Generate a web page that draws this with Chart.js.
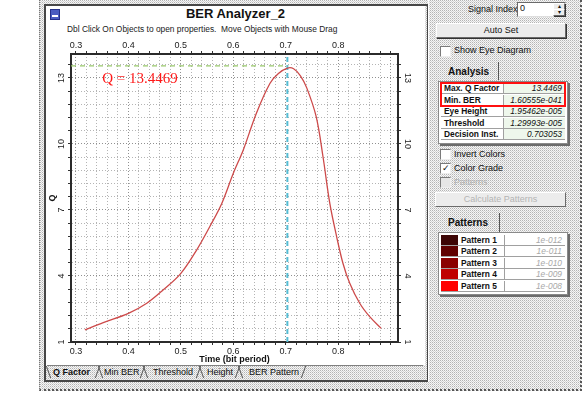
<!DOCTYPE html>
<html>
<head>
<meta charset="utf-8">
<title>BER Analyzer_2</title>
<script src="https://cdn.jsdelivr.net/npm/chart.js@4.4.0/dist/chart.umd.min.js"></script>
<style>
  html, body { margin:0; padding:0; background:#fff; width:582px; height:404px; overflow:hidden;
    font-family:"Liberation Sans", Arial, sans-serif; color:#111; }
  .a { position:absolute; }
  .dots { background-color:#f6f6f6;
    background-image:url("data:image/svg+xml,%3Csvg xmlns='http://www.w3.org/2000/svg' width='2' height='2'%3E%3Crect width='1' height='1' fill='%23b4b4b4'/%3E%3Crect x='1' y='1' width='1' height='1' fill='%23d4d4d4'/%3E%3C/svg%3E");
    background-size:2px 2px; }
  #frame { left:39px; top:0; width:540px; height:389px; border-left:1px dotted #777; border-right:2px dotted #555; border-bottom:2px dotted #555; }
  #win { left:44px; top:4px; width:381px; height:374px; border:2px solid #474747; }
  #plotBox { left:46px; top:6px; width:379px; height:359px; background:#fff; }
  #title { left:46px; top:6px; width:379px; text-align:center; font-weight:bold; font-size:13px; }
  #subtitle { left:67px; top:24px; font-size:8.4px; white-space:nowrap; color:#222; }
  #icon { left:50px; top:9px; width:8px; height:9px; background:#4a5cc0; border:1px solid #24308a; }
  #icon:after { content:""; position:absolute; left:1px; top:5px; width:6px; height:2px; background:#fff; }
  canvas { position:absolute; left:46px; top:6px; }
  .tab { font-size:9px; top:367px; white-space:nowrap; }
  .sep { width:1px; height:12px; top:366px; background:#555; }
  .txt { font-size:9px; white-space:nowrap; }
  .cb { width:9px; height:9px; background:#fff; border:1px solid; border-color:#7a7a7a #eee #eee #7a7a7a; }
  .btn { background:#ececec; border:1px solid; border-color:#fff #6a6a6a #6a6a6a #fff; box-shadow:1px 1px 0 #333;
    font-size:9px; text-align:center; line-height:13px; }
  .cell { font-size:8.4px; line-height:11px; height:11px; white-space:nowrap; box-sizing:border-box; border-bottom:1px solid #a0a0a0; }
  .name { font-weight:bold; padding-left:3px; border-right:1px solid #a0a0a0; }
  .val { font-style:italic; text-align:right; padding-right:3px; }
</style>
</head>
<body>
<div id="frame" class="a dots"></div>
<div id="win" class="a dots"></div>
<div id="plotBox" class="a"></div>
<div id="title" class="a">BER Analyzer_2</div>
<div id="subtitle" class="a">Dbl Click On Objects to open properties.&nbsp; Move Objects with Mouse Drag</div>
<div id="icon" class="a"></div>
<canvas id="qChart" width="379" height="359"></canvas>
<div id="panel"></div>

<script>
// values
const timeVals = [0.317, 0.352, 0.40, 0.435, 0.466, 0.50, 0.53, 0.555, 0.578, 0.60, 0.619, 0.644, 0.67, 0.686,
                  0.703, 0.715, 0.728, 0.74, 0.758, 0.771, 0.784, 0.797, 0.809, 0.822, 0.841, 0.86, 0.882]
const qVals = [1.55, 1.88, 2.30, 2.76, 3.36, 4.12, 5.18, 6.24, 7.3, 8.67, 9.73, 11.4, 12.76, 13.2,
               13.4469, 13.42, 13.1, 12.55, 11.24, 9.42, 7.3, 5.79, 4.58, 3.67, 2.76, 2.15, 1.62]
const xTickLabels = ['0.3', '0.4', '0.5', '0.6', '0.7', '0.8']
const yTickLabels = ['1', '4', '7', '10', '13']
const xRange = [0.2905, 0.914]
const yRange = [1, 14.09]
const maxQ = 13.4469
const maxQLine = 13.55
const decisionInst = 0.703053

const analysisNames = ['Max. Q Factor', 'Min. BER', 'Eye Height', 'Threshold', 'Decision Inst.']
const analysisValues = ['13.4469', '1.60555e-041', '1.95462e-005', '1.29993e-005', '0.703053']
const patternNames = ['Pattern 1', 'Pattern 2', 'Pattern 3', 'Pattern 4', 'Pattern 5']
const patternValues = ['1e-012', '1e-011', '1e-010', '1e-009', '1e-008']
const patternColors = ['#3d0505', '#600000', '#8a0000', '#c00000', '#ff0000']

// grid steps: 0.02 on time axis, 0.6 on Q axis
const xGrid = []
for (let i = 0; i <= 30; i++) xGrid.push(+(0.30 + i * 0.02).toFixed(2))
const yGrid = []
for (let i = 0; i <= 21; i++) yGrid.push(+(1 + i * 0.6).toFixed(1))

const isMajorX = v => v !== undefined && Math.abs(v * 10 - Math.round(v * 10)) < 1e-6
const isMajorY = v => v !== undefined && yTickLabels.includes(String(v))
const xLabel = v => {
    const s = Number(v).toFixed(1)
    return isMajorX(v) && xTickLabels.includes(s) ? s : ''
}

const tickFont = { family: '"Liberation Sans", Arial', size: 9 }

const sideLabels = {
    id: 'sideLabels',
    afterDraw(chart) {
        const { ctx, chartArea, scales } = chart
        const y = scales.y
        ctx.save()
        ctx.font = '9px "Liberation Sans", Arial'
        ctx.fillStyle = '#222'
        ctx.textAlign = 'center'
        ctx.textBaseline = 'middle'
        yTickLabels.forEach(lbl => {
            const py = y.getPixelForValue(Number(lbl))
            ctx.save(); ctx.translate(chartArea.left - 9, py); ctx.rotate(-Math.PI / 2); ctx.fillText(lbl, 0, 0); ctx.restore()
            ctx.save(); ctx.translate(chartArea.right + 9, py); ctx.rotate(Math.PI / 2); ctx.fillText(lbl, 0, 0); ctx.restore()
        })
        ctx.font = '15px "Liberation Serif", "Times New Roman", serif'
        ctx.fillStyle = '#ff1a1a'
        ctx.textAlign = 'left'
        ctx.fillText('Q = ' + maxQ, scales.x.getPixelForValue(0.35), y.getPixelForValue(13) + 1)
        ctx.restore()
    }
}

const gridX = {
    color: c => isMajorX(c.tick && c.tick.value) ? '#909090' : '#b4b4b4',
    tickColor: '#333', tickLength: 3, tickWidth: 1
}
const gridY = {
    color: c => isMajorY(c.tick && c.tick.value) ? '#909090' : '#b4b4b4',
    tickColor: '#333', tickLength: 3, tickWidth: 1
}
const border = { color: '#2b2b2b', width: 2, dash: [1, 2] }

new Chart(document.getElementById('qChart').getContext('2d'), {
    type: 'line',
    data: {
        datasets: [
            {
                label: 'Q Factor',
                data: timeVals.map((t, i) => ({ x: t, y: qVals[i] })),
                borderColor: '#cd4a4a',
                borderWidth: 1.3,
                pointRadius: 0,
                tension: 0.35
            },
            {
                label: 'Max Q',
                data: [{ x: xRange[0], y: maxQLine }, { x: decisionInst, y: maxQLine }],
                borderColor: '#98c76a',
                borderWidth: 1.2,
                borderDash: [5, 4],
                pointRadius: 0
            },
            {
                label: 'Decision instant',
                data: [{ x: decisionInst, y: yRange[0] }, { x: decisionInst, y: yRange[1] }],
                borderColor: '#55bcd4',
                borderWidth: 2,
                borderDash: [5, 3],
                pointRadius: 0
            }
        ]
    },
    options: {
        responsive: false,
        animation: false,
        layout: { padding: { top: 34, left: 0, right: 0, bottom: 0 } },
        plugins: { legend: { display: false }, tooltip: { enabled: false } },
        scales: {
            x: {
                type: 'linear', position: 'bottom', min: xRange[0], max: xRange[1],
                afterBuildTicks: s => { s.ticks = xGrid.map(v => ({ value: v })) },
                afterFit: s => { s.height = 23 },
                ticks: { callback: xLabel, autoSkip: false, maxRotation: 0, minRotation: 0, padding: 1, color: '#222', font: tickFont },
                title: { display: true, text: 'Time (bit period)', color: '#111', padding: 0,
                         font: { family: '"Liberation Sans", Arial', size: 9, weight: 'bold' } },
                grid: gridX, border: border
            },
            x2: {
                type: 'linear', position: 'top', min: xRange[0], max: xRange[1],
                afterBuildTicks: s => { s.ticks = xGrid.map(v => ({ value: v })) },
                afterFit: s => { s.height = 14 },
                ticks: { callback: xLabel, autoSkip: false, maxRotation: 0, minRotation: 0, padding: 0, color: '#222', font: tickFont },
                grid: { drawOnChartArea: false, tickColor: '#333', tickLength: 3 },
                border: border
            },
            y: {
                type: 'linear', position: 'left', min: yRange[0], max: yRange[1],
                afterBuildTicks: s => { s.ticks = yGrid.map(v => ({ value: v })) },
                afterFit: s => { s.width = 25 },
                ticks: { display: false },
                title: { display: true, text: 'Q', color: '#111', padding: { top: 1, bottom: 0 },
                         font: { family: '"Liberation Sans", Arial', size: 9, weight: 'bold' } },
                grid: gridY, border: border
            },
            y2: {
                type: 'linear', position: 'right', min: yRange[0], max: yRange[1],
                afterBuildTicks: s => { s.ticks = yGrid.map(v => ({ value: v })) },
                afterFit: s => { s.width = 27 },
                ticks: { display: false },
                grid: { drawOnChartArea: false, tickColor: '#333', tickLength: 3 },
                border: border
            }
        }
    },
    plugins: [sideLabels]
})

// ---- window chrome: tabs and the right hand panel ----
const panel = document.getElementById('panel')
function add(cls, css, text) {
    const d = document.createElement('div')
    d.className = 'a ' + cls
    d.style.cssText = css
    if (text !== undefined) d.textContent = text
    panel.appendChild(d)
    return d
}

add('', 'left:47px;top:365px;width:376px;height:1px;background:#808080')
const tabs = [['Q Factor', 53, true], ['Min BER', 104], ['Threshold', 153], ['Height', 207], ['BER Pattern', 249]]
tabs.forEach(t => add('tab', 'left:' + t[1] + 'px;' + (t[2] ? 'font-weight:bold;' : ''), t[0]))
const seps = [[48, 20], [97, -20], [100, 20], [142, -20], [145, 20], [198, -20], [201, 20], [237, -20], [240, 20], [303, -20]]
seps.forEach(s => add('sep', 'left:' + s[0] + 'px;transform:skewX(' + s[1] + 'deg)'))

add('', 'left:428px;top:0;width:1px;height:382px;background:#fff')
add('txt', 'left:468px;top:4px', 'Signal Index')
add('', 'left:517px;top:2px;width:47px;height:13px;background:#fff;border:1px solid;border-color:#6a6a6a #ddd #ddd #6a6a6a')
add('txt', 'left:520px;top:3px', '0')
add('btn', 'left:553px;top:3px;width:10px;height:5px;line-height:5px;font-size:6px', '▴')
add('btn', 'left:553px;top:9px;width:10px;height:5px;line-height:5px;font-size:6px', '▾')
add('btn', 'left:436px;top:23px;width:128px;height:13px', 'Auto Set')

add('cb', 'left:440px;top:46px')
add('txt', 'left:454px;top:45px', 'Show Eye Diagram')

add('txt', 'left:448px;top:66px;font-weight:bold;font-size:10px', 'Analysis')
add('', 'left:498px;top:62px;width:1px;height:18px;background:#555')
add('', 'left:438px;top:81px;width:128px;height:61px;background:#fff;border:1px solid #8a8a8a;box-shadow:2px 2px 0 #6c6c6c')
analysisNames.forEach((n, i) => {
    const top = 83 + i * 11.6
    add('cell name', 'left:441px;top:' + top + 'px;width:63px', n)
    add('cell val', 'left:504px;top:' + top + 'px;width:61px;background:#eef7ec', analysisValues[i])
})
add('', 'left:440px;top:82px;width:126px;height:25px;border:2px solid #ff1010;box-sizing:border-box')

add('cb', 'left:440px;top:149px')
add('txt', 'left:454px;top:149px', 'Invert Colors')
add('cb', 'left:440px;top:163px;font-size:9px;line-height:9px;text-align:center', '✓')
add('txt', 'left:454px;top:163px', 'Color Grade')
add('cb', 'left:440px;top:177px;background:#e6e6e6')
add('txt', 'left:454px;top:177px;color:#b0b0b0', 'Patterns')
add('btn', 'left:435px;top:192px;width:129px;height:13px;color:#b4b4b4;box-shadow:none', 'Calculate Patterns')

add('txt', 'left:448px;top:217px;font-weight:bold;font-size:10px', 'Patterns')
add('', 'left:499px;top:213px;width:1px;height:19px;background:#555')
add('', 'left:438px;top:232px;width:128px;height:61px;background:#fff;border:1px solid #8a8a8a;box-shadow:2px 2px 0 #6c6c6c')
patternNames.forEach((n, i) => {
    const top = 234.5 + i * 11.6
    add('cell', 'left:441px;top:' + top + 'px;width:17px;background:' + patternColors[i])
    add('cell name', 'left:458px;top:' + top + 'px;width:47px', n)
    add('cell val', 'left:505px;top:' + top + 'px;width:60px;color:#a8a8a8', patternValues[i])
})
</script>
</body>
</html>
